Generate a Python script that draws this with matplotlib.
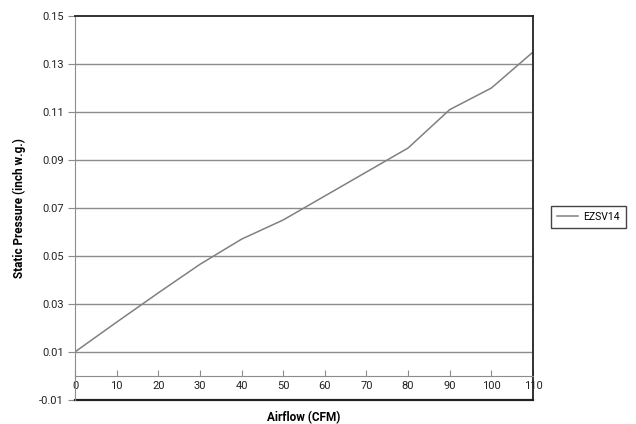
import numpy as np
import matplotlib.pyplot as plt

# =========================================================
# DATA
# =========================================================

airflow = [0, 10, 20, 30, 40, 50, 60, 70, 80, 90, 100, 110]

pressure = [0.010, 0.0224, 0.0346, 0.0465, 0.057, 0.065,
            0.075, 0.085, 0.095, 0.111, 0.120, 0.135]

series_name = "EZSV14"

x_ticks = list(range(0, 111, 10))
y_ticks = [-0.01, 0.01, 0.03, 0.05, 0.07, 0.09, 0.11, 0.13, 0.15]
y_labels = ["-0.01", "0.01", "0.03", "0.05", "0.07", "0.09", "0.11", "0.13", "0.15"]

# =========================================================
# PLOT
# =========================================================

plt.rcParams["font.family"] = ["Roboto", "DejaVu Sans"]

fig = plt.figure(figsize=(6.36, 4.24), dpi=100)
ax = fig.add_axes([0.118, 0.057, 0.720, 0.905])

ax.plot(airflow, pressure, color="#808080", lw=1.1, label=series_name)

ax.set_xlim(0, 110)
ax.set_ylim(-0.01, 0.15)

ax.set_yticks(y_ticks)
ax.set_yticklabels(y_labels)
ax.set_xticks(x_ticks)

# horizontal grid
for yv in y_ticks[1:-1]:
    ax.axhline(yv, color="#8c8c8c", lw=1, zorder=0)

# x axis sits at zero
ax.spines["bottom"].set_position(("data", 0))
ax.spines["bottom"].set_color("#8c8c8c")
ax.spines["left"].set_color("#8c8c8c")
ax.spines["top"].set_color("#222222")
ax.spines["right"].set_color("#222222")
ax.spines["top"].set_linewidth(1.3)
ax.spines["right"].set_linewidth(1.3)

ax.axhline(-0.01, color="#222222", lw=1.6, clip_on=False)

ax.tick_params(axis="x", direction="in", length=4, color="#8c8c8c",
               labelsize=8, pad=4, labelcolor="#222222")
ax.tick_params(axis="y", direction="out", length=5, color="#8c8c8c",
               labelsize=8, pad=3, labelcolor="#222222")

ax.set_xlabel("Airflow (CFM)", fontsize=8.5, fontweight="bold")
ax.xaxis.set_label_coords(0.5, -0.03)
ax.set_ylabel("Static Pressure (inch w.g.)", fontsize=8.5, fontweight="bold")
ax.yaxis.set_label_coords(-0.108, 0.5)

leg = ax.legend(loc="center left", bbox_to_anchor=(1.039, 0.477),
                fancybox=False, edgecolor="#444444", fontsize=7.5,
                handlelength=2.0, handletextpad=0.5, borderpad=0.6,
                borderaxespad=0, framealpha=1)
leg.get_frame().set_linewidth(1.0)

plt.savefig("out.png", dpi=100)
plt.close()
